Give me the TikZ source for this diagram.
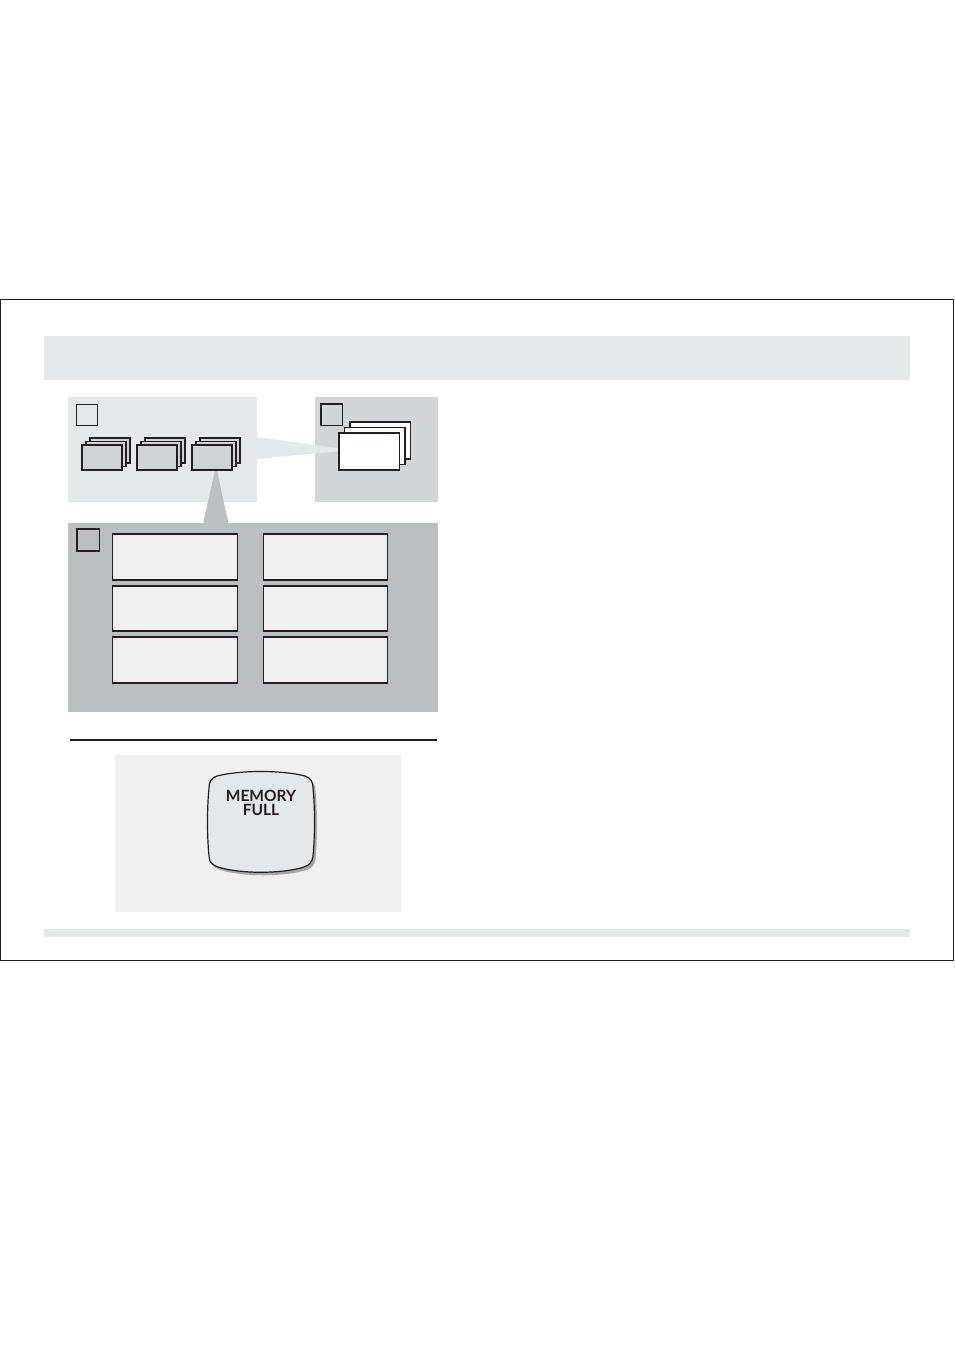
\documentclass[tikz,border=0pt]{standalone}
\usepackage{fontspec}
\newfontfamily\btnfont{Lato}
\definecolor{gA}{HTML}{E6E7E8}
\definecolor{gB}{HTML}{D4D5D6}
\definecolor{gC}{HTML}{BCBEC0}
\definecolor{gBox}{HTML}{F0F0F0}
\definecolor{gCard}{HTML}{D1D3D4}
\definecolor{ink}{HTML}{231F20}
\tikzset{
  panel/.style={draw=none},
  thinsq/.style={draw=ink,line width=0.9pt},
  thicksq/.style={draw=ink,line width=1.8pt},
  card/.style={draw=ink,line width=1.2pt,fill=gCard},
  wcard/.style={draw=ink,line width=1.2pt,fill=white},
  slot/.style={draw=ink,line width=1.2pt,fill=gBox},
}
\begin{document}
\begin{tikzpicture}[x=1pt,y=-1pt]
\useasboundingbox (0,0) rectangle (954,1351);
% outer frame
\draw[ink,line width=1pt] (0.5,299.5) rectangle (953,960);
% header band
\fill[gA] (44,336) rectangle (910,380);
% bottom band
\fill[gA] (44,929) rectangle (910,937);
% panel A
\fill[gA] (68,397) rectangle (257,502);
\draw[thinsq] (76,404.5) rectangle (97,425.5);
% panel B
\fill[gB] (315,397) rectangle (438,502);
\draw[thicksq] (321,404) rectangle (342.5,425.5);
% wedge A->B
\fill[gA] (256,437) -- (352,450) -- (256,459) -- cycle;
% panel C
\fill[gC] (68,523) rectangle (438,712);
% wedge down
\fill[gC] (216,466) -- (228.5,524) -- (203,524) -- cycle;
\draw[thicksq] (77,529) rectangle (99.5,551);
% card stacks
\foreach \x in {82,137,192}{
  \draw[card] (\x+8,438) rectangle (\x+48,463);
  \draw[card] (\x+4,441.5) rectangle (\x+44,466.5);
  \draw[card] (\x,445) rectangle (\x+40,470);
}
% white cards
\draw[wcard] (350,422) rectangle (410.5,459);
\draw[wcard] (344.5,427.5) rectangle (405,464.5);
\draw[wcard] (339,433) rectangle (399.5,470);
% slots
\foreach \y/\h in {534/46,586/45,637/46}{
  \draw[slot] (112.5,\y) rectangle (237.5,\y+\h);
  \draw[slot] (263.5,\y) rectangle (387.5,\y+\h);
}
% separator line
\draw[ink,line width=1.6pt] (70,740) -- (437,740);
% panel D
\fill[gBox] (115,755) rectangle (401,912);
% button shadow
\begin{scope}[shift={(2.5,3)}]
\fill[black!35] (217,776) .. controls (240,770) and (282,770) .. (305,776)
  .. controls (311,778) and (313,782) .. (313,788)
  .. controls (315,808) and (315,836) .. (313,856)
  .. controls (312,862) and (310,865) .. (304,867)
  .. controls (282,874) and (240,874) .. (218,867)
  .. controls (212,865) and (209,862) .. (209,856)
  .. controls (207,836) and (207,808) .. (209,788)
  .. controls (209,782) and (211,778) .. (217,776) -- cycle;
\end{scope}
\draw[ink,line width=1.2pt,fill=gA] (217,776) .. controls (240,770) and (282,770) .. (305,776)
  .. controls (311,778) and (313,782) .. (313,788)
  .. controls (315,808) and (315,836) .. (313,856)
  .. controls (312,862) and (310,865) .. (304,867)
  .. controls (282,874) and (240,874) .. (218,867)
  .. controls (212,865) and (209,862) .. (209,856)
  .. controls (207,836) and (207,808) .. (209,788)
  .. controls (209,782) and (211,778) .. (217,776) -- cycle;
\node[text=ink,font=\btnfont\bfseries\fontsize{15.5}{13.5}\selectfont,align=center,inner sep=0pt] (btn) at (261,803) {MEMORY\\FULL};
\end{tikzpicture}
\end{document}
